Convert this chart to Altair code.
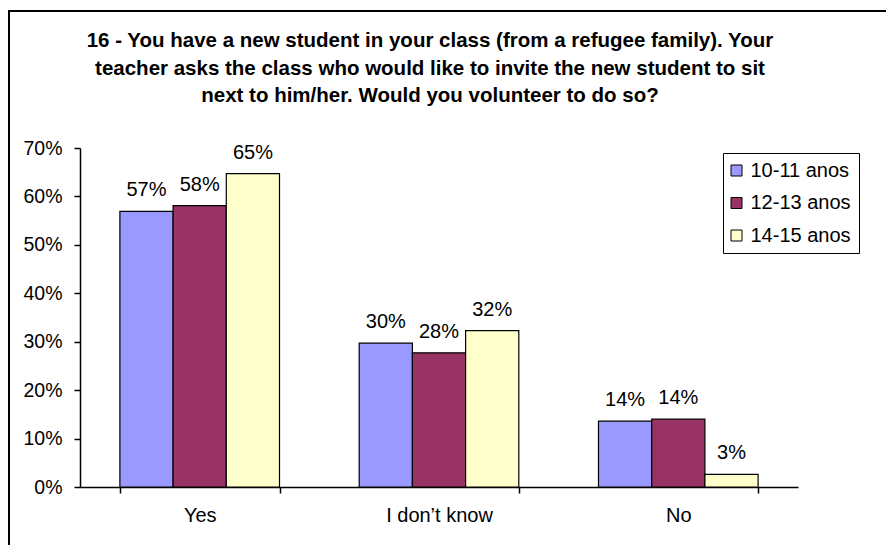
import altair as alt
import pandas as pd

categories = ["Yes", "I don\u2019t know", "No"]
series = ["10-11 anos", "12-13 anos", "14-15 anos"]
v_10_11 = [0.569, 0.297, 0.136]
v_12_13 = [0.581, 0.277, 0.140]
v_14_15 = [0.647, 0.323, 0.026]
colors = ["#9999FF", "#993366", "#FFFFCC"]
y_ticks = [0, 0.1, 0.2, 0.3, 0.4, 0.5, 0.6, 0.7]
title_lines = [
    "16 - You have a new student in your class (from a refugee family). Your",
    "teacher asks the class who would like to invite the new student to sit",
    "next to him/her. Would you volunteer to do so?",
]

rows = []
for s, vals in zip(series, [v_10_11, v_12_13, v_14_15]):
    for c, v in zip(categories, vals):
        rows.append({"category": c, "series": s, "value": v})
df = pd.DataFrame(rows)

FONT = "Liberation Sans"
FS = 20
W, H = 718, 339

x_enc = alt.X("category:N", sort=categories, title=None,
              scale=alt.Scale(paddingInner=0.333, paddingOuter=0.1667),
              axis=alt.Axis(labelAngle=0, tickBand="extent", tickSize=6,
                            labelPadding=12, labelFontSize=FS, labelFont=FONT,
                            labelColor="black", domainColor="black",
                            domainWidth=1.5, tickColor="black", tickWidth=1.5,
                            grid=False))
xo_enc = alt.XOffset("series:N", sort=series,
                     scale=alt.Scale(paddingInner=0, paddingOuter=0))
y_enc = alt.Y("value:Q", title=None,
              scale=alt.Scale(domain=[0, 0.7], nice=False),
              axis=alt.Axis(values=y_ticks, format=".0%", tickSize=6,
                            labelPadding=12, labelFontSize=FS - 0.5, labelFont=FONT,
                            labelColor="black", domainColor="black",
                            domainWidth=1.5, tickColor="black", tickWidth=1.5,
                            grid=False))

base = alt.Chart(df)

bars = base.mark_bar(stroke="black", strokeWidth=1.2).encode(
    x=x_enc,
    xOffset=xo_enc,
    y=y_enc,
    color=alt.Color("series:N", sort=series,
                    scale=alt.Scale(domain=series, range=colors),
                    legend=alt.Legend(title=None, orient="none", legendX=643,
                                      legendY=5, padding=7.5,
                                      strokeColor="black", fillColor="white",
                                      symbolType="square", symbolSize=121,
                                      symbolStrokeColor="black",
                                      symbolStrokeWidth=1, symbolOffset=-4,
                                      labelOffset=4,
                                      rowPadding=12.5, labelFontSize=FS,
                                      labelFont=FONT, labelColor="black")),
)

labels = base.mark_text(baseline="alphabetic", dy=-15, fontSize=FS,
                        font=FONT, color="black").encode(
    x=alt.X("category:N", sort=categories),
    xOffset=alt.XOffset("series:N", sort=series),
    y="value:Q",
    text=alt.Text("value:Q", format=".0%"),
)

one = pd.DataFrame({"k": [0]})
title = alt.Chart(one).mark_text(
    text=title_lines, lineHeight=27.5, fontSize=20.5, fontWeight="bold",
    font=FONT, color="black", align="center", baseline="alphabetic",
).encode(x=alt.value(350), y=alt.value(-101))

frame_left = alt.Chart(one).mark_rule(color="black", strokeWidth=2).encode(
    x=alt.value(-71), y=alt.value(-138), y2=alt.value(420))
frame_top = alt.Chart(one).mark_rule(color="black", strokeWidth=2).encode(
    x=alt.value(-72), x2=alt.value(830), y=alt.value(-137))

chart = alt.layer(frame_left, frame_top, title, bars, labels).properties(
    width=W, height=H,
    autosize=alt.AutoSizeParams(type="none"),
    padding={"left": 72, "top": 140, "right": 88, "bottom": 58},
    background="white",
).configure_view(stroke=None)

chart.save("out.html", embed_options={"renderer": "svg", "actions": False})
